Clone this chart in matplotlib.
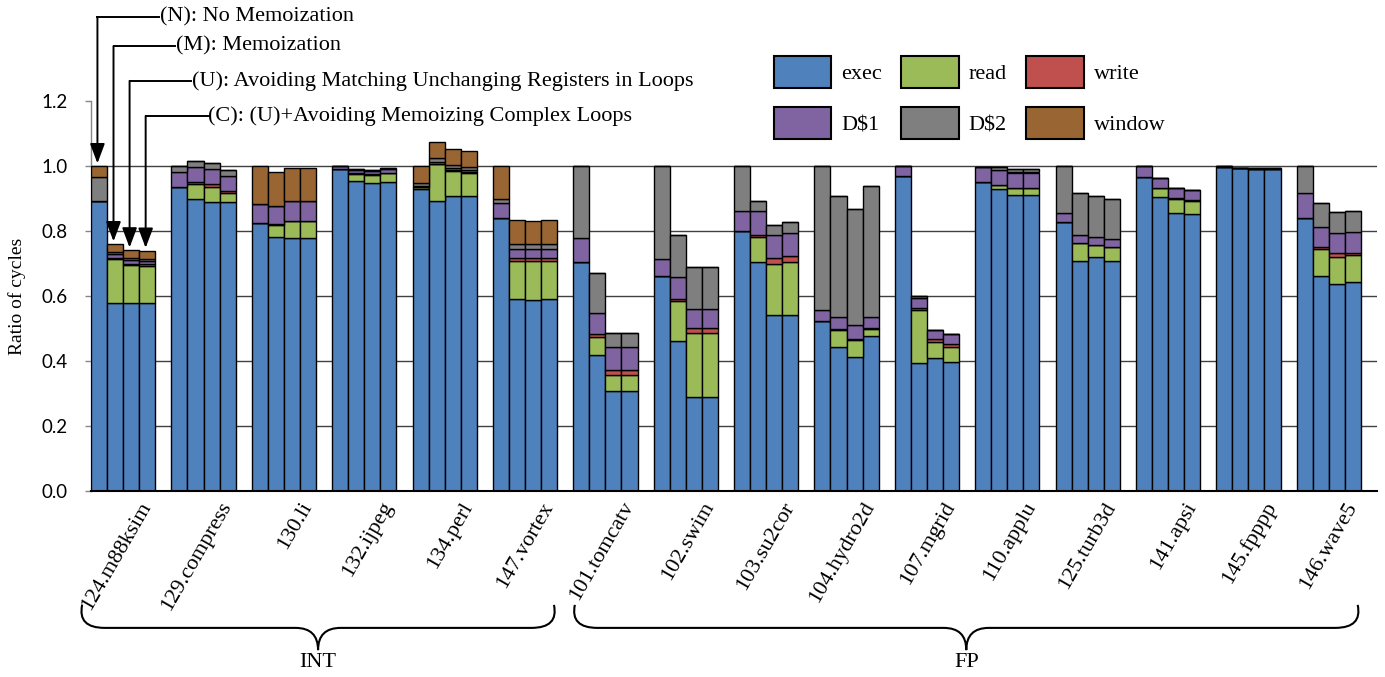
import numpy as np
import matplotlib
matplotlib.use('Agg')
import matplotlib.pyplot as plt
from matplotlib.patches import Patch, PathPatch
from matplotlib.path import Path
from matplotlib.transforms import ScaledTranslation, blended_transform_factory

# Benchmarks, each with 4 bars: (N), (M), (U), (C)
benchmarks = ['124.m88ksim', '129.compress', '130.li', '132.ijpeg', '134.perl', '147.vortex',
              '101.tomcatv', '102.swim', '103.su2cor', '104.hydro2d', '107.mgrid', '110.applu',
              '125.turb3d', '141.apsi', '145.fpppp', '146.wave5']
components = ['exec', 'read', 'write', 'D$1', 'D$2', 'window']
colors = ['#4F81BD', '#9BBB59', '#C0504D', '#8064A2', '#7F7F7F', '#996633']

exec_c = [[0.893, 0.579, 0.579, 0.579], [0.934, 0.897, 0.889, 0.889], [0.824, 0.781, 0.778, 0.778],
          [0.990, 0.954, 0.949, 0.951], [0.929, 0.892, 0.907, 0.909], [0.839, 0.591, 0.588, 0.592],
          [0.704, 0.420, 0.308, 0.308], [0.663, 0.463, 0.288, 0.288], [0.800, 0.706, 0.542, 0.542],
          [0.524, 0.444, 0.411, 0.478], [0.969, 0.393, 0.410, 0.397], [0.950, 0.928, 0.911, 0.911],
          [0.829, 0.709, 0.719, 0.708], [0.967, 0.906, 0.854, 0.851], [0.998, 0.993, 0.992, 0.990],
          [0.839, 0.662, 0.637, 0.643]]
read_c = [[0.0, 0.134, 0.116, 0.114], [0.0, 0.047, 0.047, 0.027], [0.0, 0.037, 0.054, 0.054],
          [0.0, 0.021, 0.023, 0.027], [0.006, 0.114, 0.079, 0.071], [0.0, 0.117, 0.120, 0.116],
          [0.0, 0.053, 0.049, 0.049], [0.0, 0.121, 0.197, 0.197], [0.0, 0.077, 0.158, 0.164],
          [0.0, 0.050, 0.054, 0.021], [0.0, 0.164, 0.047, 0.047], [0.0, 0.014, 0.020, 0.020],
          [0.0, 0.053, 0.038, 0.042], [0.0, 0.025, 0.044, 0.042], [0.0, 0.0, 0.0, 0.0],
          [0.0, 0.082, 0.084, 0.082]]
write_c = [[0.0, 0.005, 0.005, 0.005], [0.0, 0.006, 0.010, 0.008], [0.0, 0.003, 0.0, 0.0],
           [0.0, 0.002, 0.002, 0.002], [0.0, 0.0, 0.002, 0.002], [0.0, 0.008, 0.008, 0.008],
           [0.0, 0.010, 0.015, 0.015], [0.0, 0.007, 0.017, 0.017], [0.0, 0.006, 0.017, 0.016],
           [0.0, 0.003, 0.003, 0.003], [0.0, 0.007, 0.010, 0.007], [0.0, 0.0, 0.0, 0.0],
           [0.0, 0.0, 0.0, 0.0], [0.0, 0.0, 0.003, 0.002], [0.0, 0.0, 0.0, 0.0],
           [0.0, 0.008, 0.010, 0.008]]
d1_c = [[0.0, 0.010, 0.010, 0.010], [0.046, 0.048, 0.045, 0.045], [0.059, 0.056, 0.059, 0.059],
        [0.010, 0.011, 0.012, 0.011], [0.005, 0.006, 0.006, 0.006], [0.046, 0.029, 0.028, 0.029],
        [0.076, 0.064, 0.071, 0.071], [0.050, 0.066, 0.057, 0.057], [0.062, 0.072, 0.071, 0.071],
        [0.032, 0.039, 0.042, 0.034], [0.031, 0.031, 0.028, 0.033], [0.048, 0.046, 0.049, 0.049],
        [0.027, 0.026, 0.026, 0.025], [0.033, 0.031, 0.030, 0.031], [0.002, 0.002, 0.002, 0.003],
        [0.079, 0.061, 0.062, 0.064]]
d2_c = [[0.072, 0.006, 0.006, 0.006], [0.020, 0.018, 0.017, 0.019], [0.0, 0.0, 0.0, 0.0],
        [0.0, 0.002, 0.002, 0.002], [0.008, 0.012, 0.009, 0.008], [0.013, 0.015, 0.015, 0.016],
        [0.220, 0.125, 0.044, 0.044], [0.287, 0.131, 0.131, 0.131], [0.138, 0.032, 0.031, 0.035],
        [0.444, 0.372, 0.359, 0.402], [0.0, 0.005, 0.0, 0.0], [0.0, 0.010, 0.010, 0.010],
        [0.144, 0.128, 0.125, 0.123], [0.0, 0.0, 0.0, 0.0], [0.0, 0.0, 0.0, 0.0],
        [0.082, 0.074, 0.067, 0.065]]
window_c = [[0.035, 0.026, 0.025, 0.026], [0.0, 0.0, 0.0, 0.0], [0.117, 0.106, 0.104, 0.104],
            [0.0, 0.0, 0.0, 0.0], [0.052, 0.051, 0.049, 0.051], [0.102, 0.073, 0.072, 0.073],
            [0.0, 0.0, 0.0, 0.0], [0.0, 0.0, 0.0, 0.0], [0.0, 0.0, 0.0, 0.0],
            [0.0, 0.0, 0.0, 0.0], [0.0, 0.0, 0.0, 0.0], [0.0, 0.0, 0.0, 0.0],
            [0.0, 0.0, 0.0, 0.0], [0.0, 0.0, 0.0, 0.0], [0.0, 0.0, 0.0, 0.0],
            [0.0, 0.0, 0.0, 0.0]]

variants = ['(N): No Memoization', '(M): Memoization',
            '(U): Avoiding Matching Unchanging Registers in Loops',
            '(C): (U)+Avoiding Memoizing Complex Loops']
groups = [('INT', 0, 5), ('FP', 6, 15)]

serif = 'Liberation Serif'
sans = 'Lato'
fs = 16

fig = plt.figure(figsize=(13.85, 6.77), dpi=100)
ax = fig.add_axes([91 / 1385, 1 - 491 / 677, 1286 / 1385, 390 / 677])

n_groups = len(benchmarks)
x = (np.arange(n_groups)[:, None] * 5 + np.arange(4)[None, :]).ravel()
stack = [np.array(c).ravel() for c in [exec_c, read_c, write_c, d1_c, d2_c, window_c]]

bottom = np.zeros(len(x))
for vals, col in zip(stack, colors):
    ax.bar(x, vals, width=1.0, bottom=bottom, color=col, edgecolor='black', linewidth=1.0, zorder=3)
    bottom = bottom + vals
totals = bottom

ax.set_xlim(-0.5, 79.5)
ax.set_ylim(0, 1.2)
ax.set_yticks([0.0, 0.2, 0.4, 0.6, 0.8, 1.0, 1.2])
ax.set_yticklabels(['0.0', '0.2', '0.4', '0.6', '0.8', '1.0', '1.2'], fontfamily=sans, fontsize=13.5)
ax.set_axisbelow(True)
ax.yaxis.grid(True, color='#404040', linewidth=1.0)
for gl, t in zip(ax.get_ygridlines(), ax.get_yticks()):
    if t < 0.1 or t > 1.1:
        gl.set_visible(False)
ax.tick_params(axis='y', direction='out', length=4, width=1, color='#868686', pad=13)
for s in ['top', 'right']:
    ax.spines[s].set_visible(False)
ax.spines['left'].set_color('#868686')
ax.spines['left'].set_linewidth(1.0)
ax.spines['bottom'].set_color('black')
ax.spines['bottom'].set_linewidth(1.5)
ax.spines['bottom'].set_zorder(4)

ax.set_ylabel('Ratio of cycles', fontfamily=serif, fontsize=14)
ax.yaxis.set_label_coords(-0.0505, 0.5)

# category labels
centers = np.arange(n_groups) * 5 + 1.5
ax.set_xticks(centers)
ax.set_xticklabels(benchmarks, rotation=60, ha='right', va='center', rotation_mode='anchor',
                   fontfamily=serif, fontsize=fs)
ax.tick_params(axis='x', length=0, pad=9)
offset = ScaledTranslation(0.24, 0, fig.dpi_scale_trans)
for lbl in ax.get_xticklabels():
    lbl.set_transform(lbl.get_transform() + offset)

# arrows pointing to the four bars of the first benchmark
line_y = [1.458, 1.369, 1.262, 1.154]
for k, (txt, ly) in enumerate(zip(variants, line_y)):
    xv = x[k] - 0.1
    xt = xv + 3.85
    ax.plot([xv, xt], [ly, ly], color='black', lw=1.4, clip_on=False, zorder=5)
    ax.annotate('', xy=(xv, totals[k] + 0.008), xytext=(xv, ly),
                arrowprops=dict(arrowstyle='-|>,head_length=0.8,head_width=0.3', color='black',
                                lw=1.4, mutation_scale=15, shrinkA=0, shrinkB=0),
                annotation_clip=False, zorder=5)
    ax.text(xt + 0.05, ly, txt, fontfamily=serif, fontsize=fs, ha='left', va='center',
            clip_on=False)


# braces under the category labels
def draw_brace(x0, x1, label):
    tr = blended_transform_factory(ax.transData, ax.transAxes)
    ye, yh, yt = -0.292, -0.351, -0.408
    rx = 1.4
    xm = (x0 + x1) / 2
    verts = [(x0, ye), (x0 - 0.3, yh), (x0 + rx, yh),
             (xm - rx, yh),
             (xm, yh), (xm, yt),
             (xm, yh), (xm + rx, yh),
             (x1 - rx, yh),
             (x1 + 0.3, yh), (x1, ye)]
    codes = [Path.MOVETO, Path.CURVE3, Path.CURVE3,
             Path.LINETO,
             Path.CURVE3, Path.CURVE3,
             Path.CURVE3, Path.CURVE3,
             Path.LINETO,
             Path.CURVE3, Path.CURVE3]
    ax.add_patch(PathPatch(Path(verts, codes), fill=False, lw=1.5, edgecolor='black',
                           transform=tr, clip_on=False))
    ax.text(xm, -0.44, label, transform=tr, ha='center', va='center',
            fontfamily=serif, fontsize=fs)


for name, g0, g1 in groups:
    left = g0 * 5 - 0.5 - 0.55
    right = g1 * 5 + 3.5 - 0.2
    if g0 > 0:
        left = g0 * 5 - 0.5 + 0.1
    draw_brace(left, right, name)

# legend (row-major in the picture, matplotlib fills columns first)
handles = [Patch(facecolor=c, edgecolor='black', linewidth=1.5, label=l)
           for c, l in zip(colors, components)]
order = [0, 3, 1, 4, 2, 5]
fig.legend([handles[i] for i in order], [components[i] for i in order],
           loc='upper left', bbox_to_anchor=(758 / 1385, 1 - 40 / 677), ncol=3, frameon=False,
           prop={'family': serif, 'size': fs}, handlelength=2.6, handleheight=1.87,
           handletextpad=0.45, columnspacing=0.85, labelspacing=0.85, borderpad=0.2)

fig.savefig('out.png', dpi=100)
